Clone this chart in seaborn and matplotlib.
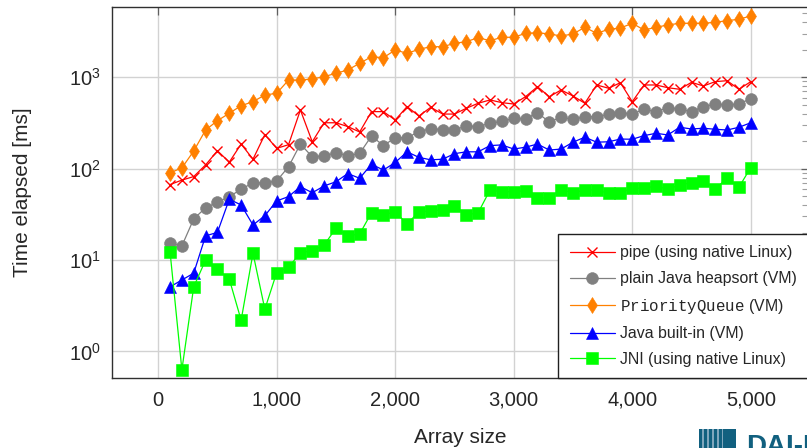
import matplotlib
matplotlib.use('Agg')
import matplotlib.pyplot as plt
import seaborn as sns
import pandas as pd
from matplotlib.ticker import LogLocator, FuncFormatter, NullFormatter, FixedLocator
from matplotlib.patches import Rectangle

# array sizes on the x axis
sizes = [100, 200, 300, 400, 500, 600, 700, 800, 900, 1000,
         1100, 1200, 1300, 1400, 1500, 1600, 1700, 1800, 1900, 2000,
         2100, 2200, 2300, 2400, 2500, 2600, 2700, 2800, 2900, 3000,
         3100, 3200, 3300, 3400, 3500, 3600, 3700, 3800, 3900, 4000,
         4100, 4200, 4300, 4400, 4500, 4600, 4700, 4800, 4900, 5000]

# elapsed time in ms
pipe = [67, 75, 82, 110, 157, 118, 186, 127, 236, 167,
        183, 439, 197, 318, 318, 289, 252, 421, 421, 341,
        478, 377, 470, 396, 396, 458, 520, 565, 528, 510,
        614, 789, 614, 726, 624, 520, 824, 759, 873, 541,
        824, 824, 769, 739, 881, 803, 896, 918, 739, 896]
heapsort = [15.5, 14.3, 28.2, 37.4, 42.9, 49.4, 59.6, 70, 70, 73.5,
            105, 186, 135, 138, 150, 139, 147, 228, 179, 218,
            218, 254, 274, 267, 266, 293, 289, 314, 330, 356,
            350, 410, 324, 365, 347, 371, 371, 394, 410, 396,
            447, 421, 465, 450, 421, 478, 510, 498, 510, 584]
prio_queue = [90, 102, 156, 265, 335, 404, 489, 541, 640, 668,
              933, 933, 958, 1016, 1106, 1202, 1423, 1679, 1637, 1989,
              1829, 2023, 2161, 2161, 2350, 2455, 2713, 2512, 2740, 2740,
              3027, 3075, 2977, 2831, 2977, 3524, 3027, 3348, 3459, 3899,
              3289, 3524, 3734, 3899, 3899, 3899, 3997, 4160, 4315, 4690]
java_builtin = [5.1, 6.05, 7.2, 18.4, 20.1, 46.3, 40.1, 24.2, 30.6, 44.4,
                49.5, 63.6, 54.6, 64.7, 72, 88.5, 78.5, 112, 96.6, 117,
                153, 133, 125, 127, 146, 153, 153, 179, 182, 164,
                172, 186, 160, 164, 195, 221, 195, 197, 211, 210,
                230, 244, 234, 284, 272, 277, 270, 265, 284, 318]
jni = [12.4, 0.63, 5.1, 10, 7.9, 6.2, 2.2, 11.9, 2.9, 7.3,
       8.3, 12.1, 12.6, 14.6, 22.3, 18.4, 19.3, 33, 31.1, 33.9,
       24.8, 33.9, 34.4, 35.5, 39.5, 31.1, 33, 58.5, 56, 56,
       57.4, 47.4, 48.2, 58.5, 54.6, 58.5, 58.5, 53.8, 54.6, 61.1,
       61.1, 64.7, 59.6, 66.4, 70.3, 74, 60, 78.6, 62.7, 103]

labels = ['pipe (using native Linux)',
          'plain Java heapsort (VM)',
          r'$\mathtt{PriorityQueue}$ (VM)',
          'Java built-in (VM)',
          'JNI (using native Linux)']
x_ticks = [0, 1000, 2000, 3000, 4000, 5000]

sns.set_style('white')
plt.rcParams['font.family'] = ['Liberation Sans', 'DejaVu Sans']
plt.rcParams['mathtext.fontset'] = 'custom'
plt.rcParams['mathtext.rm'] = 'Liberation Sans'
plt.rcParams['mathtext.it'] = 'Liberation Sans:italic'
plt.rcParams['mathtext.bf'] = 'Liberation Sans:bold'
plt.rcParams['mathtext.tt'] = 'Liberation Mono'

# one plot style per series: colour, marker, marker size
styles = [('#ff0000', 'x', 6.5),
          ('#808080', 'o', 8.5),
          ('#ff8000', 'd', 8.3),
          ('#0000ff', '^', 8.5),
          ('#00ff00', 's', 8.0)]
series = [pipe, heapsort, prio_queue, java_builtin, jni]

W, H = 807, 448
fig = plt.figure(figsize=(W / 100, H / 100), dpi=100)
ax = fig.add_axes([112.3 / W, 1 - 378.3 / H, (808.5 - 112.3) / W, (378.3 - 6.7) / H])

for vals, lab, (col, mk, ms) in zip(series, labels, styles):
    df = pd.DataFrame({'size': sizes, 'ms': vals})
    sns.lineplot(data=df, x='size', y='ms', ax=ax, color=col, marker=mk,
                 markersize=ms, linewidth=0.9, label=lab,
                 markeredgecolor=col, markeredgewidth=1.0 if mk == 'x' else 0.4,
                 zorder=3)

ax.set_yscale('log')
ax.set_xlim(-387, 5487)
ax.set_ylim(0.509, 5920)

ax.xaxis.set_major_locator(FixedLocator(x_ticks))
ax.xaxis.set_major_formatter(FuncFormatter(lambda v, p: f'{v:,.0f}'))
ax.yaxis.set_major_locator(LogLocator(base=10, numticks=10))
ax.yaxis.set_minor_locator(LogLocator(base=10, subs=range(2, 10), numticks=20))
ax.yaxis.set_minor_formatter(NullFormatter())

ax.grid(True, which='major', color='#d2d2d2', linewidth=1.0, zorder=0)
ax.tick_params(which='both', direction='in', top=True, right=True,
               labelsize=14.5)
ax.tick_params(which='major', length=6, width=0.9, color='#606060')
ax.tick_params(which='minor', length=5, width=0.8, color='#a0a0a0')
ax.tick_params(axis='x', pad=9)
ax.tick_params(axis='y', pad=8)
for s in ax.spines.values():
    s.set_color('#303030')
    s.set_linewidth(1.0)

ax.set_xlabel('Array size', fontsize=15, labelpad=13)
ax.set_ylabel('Time elapsed [ms]', fontsize=15, labelpad=27)

leg = ax.legend(loc='lower right', bbox_to_anchor=(1, 0), borderaxespad=0,
                fontsize=11.4, fancybox=False, framealpha=1, edgecolor='#202020',
                borderpad=0.72, labelspacing=0.67, handlelength=2.85,
                handletextpad=0.35, numpoints=1)
leg.get_frame().set_linewidth(1.0)
leg.set_zorder(5)

# partial DAI logo in the lower right corner
def px(x, y):
    return x / W, 1 - y / H

logo_dark = '#11607f'
logo_light = '#7fa7bd'
fig.add_artist(Rectangle(px(699, 448), 37 / W, 19 / H, transform=fig.transFigure,
                         facecolor=logo_light, edgecolor='none'))
for bx in [699, 704, 709, 714, 719]:
    fig.add_artist(Rectangle(px(bx, 448), 2.6 / W, 19 / H, transform=fig.transFigure,
                             facecolor=logo_dark, edgecolor='none'))
fig.add_artist(Rectangle(px(723, 448), 13 / W, 19 / H, transform=fig.transFigure,
                         facecolor=logo_dark, edgecolor='none'))
fig.text(*px(746, 454), 'DAI-L', color=logo_dark, fontsize=20, fontweight='bold',
         ha='left', va='baseline')

fig.savefig('out.png', dpi=100)
